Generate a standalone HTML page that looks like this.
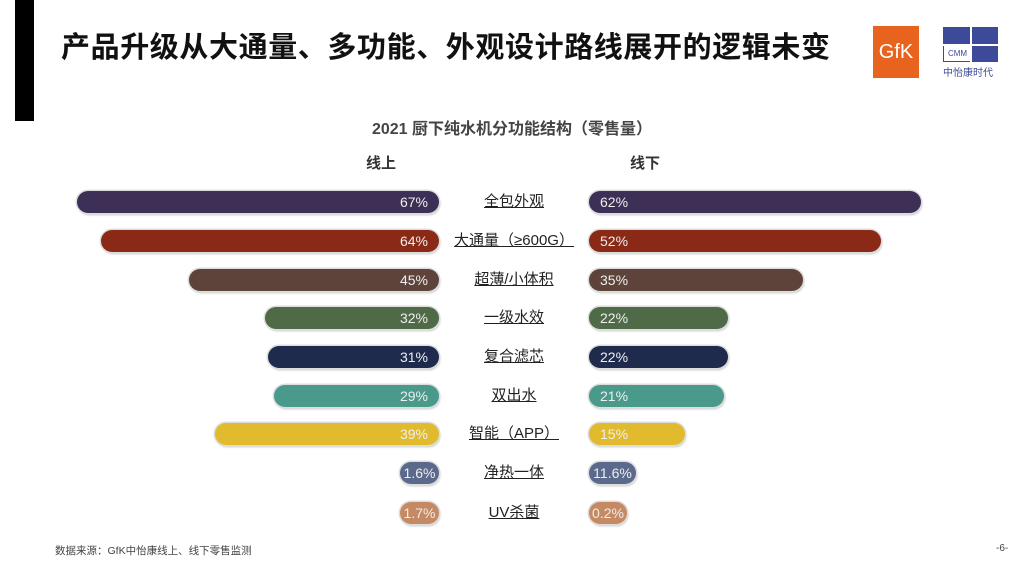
<!DOCTYPE html>
<html><head><meta charset="utf-8"><style>
body{margin:0;width:1024px;height:576px;background:#fff;position:relative;overflow:hidden;font-family:"Liberation Sans","Noto Sans CJK SC",sans-serif;}
.a{position:absolute}
.bar{position:absolute;height:22px;border-radius:11px;color:#eee;font-size:14px;line-height:22px;box-shadow:0 0 0 1.5px #ddd,1px 2px 2px rgba(0,0,0,.25);box-sizing:border-box}
.l{text-align:right;padding-right:11px}
.r{text-align:left;padding-left:11px}
.s{text-align:center;padding:0}
.lab{position:absolute;left:440px;width:148px;text-align:center;font-size:15px;color:#222;text-decoration:underline;line-height:22px}
</style></head><body>
<div class="a" style="left:15px;top:0;width:19px;height:121px;background:#000"></div>
<div class="a" style="left:61px;top:24px;font-size:29px;font-weight:bold;color:#111;letter-spacing:0.6px">产品升级从大通量、多功能、外观设计路线展开的逻辑未变</div>
<div class="a" style="left:873px;top:26px;width:46px;height:52px;background:#e8641e;color:#fff;font-size:20px;line-height:52px;text-align:center">GfK</div>
<div class="a" style="left:943px;top:27px;width:55px;height:35px;background:#3d4a9a"></div>
<div class="a" style="left:944px;top:46px;width:27px;height:15px;background:#fff;color:#3d4a9a;font-size:8px;line-height:15px;text-align:center">CMM</div>
<div class="a" style="left:970px;top:27px;width:2px;height:35px;background:#fff"></div>
<div class="a" style="left:943px;top:44px;width:55px;height:2px;background:#fff"></div>
<div class="a" style="left:943px;top:64px;font-size:10px;color:#3d4a9a">中怡康时代</div>
<div class="a" style="left:0;width:1024px;top:115px;text-align:center;font-size:16px;font-weight:bold;color:#444">2021 厨下纯水机分功能结构（零售量）</div>
<div class="a" style="left:366px;top:152px;font-size:15px;font-weight:bold;color:#333">线上</div>
<div class="a" style="left:630px;top:152px;font-size:15px;font-weight:bold;color:#333">线下</div>

<div class="bar l" style="top:191px;left:77px;width:362px;background:#3d2f55">67%</div>
<div class="lab" style="top:191px">全包外观</div>
<div class="bar r" style="top:191px;left:589px;width:332px;background:#3d2f55">62%</div>

<div class="bar l" style="top:230px;left:101px;width:338px;background:#8a2a16">64%</div>
<div class="lab" style="top:230px">大通量（≥600G）</div>
<div class="bar r" style="top:230px;left:589px;width:292px;background:#8a2a16">52%</div>

<div class="bar l" style="top:269px;left:189px;width:250px;background:#5e433a">45%</div>
<div class="lab" style="top:269px">超薄/小体积</div>
<div class="bar r" style="top:269px;left:589px;width:214px;background:#5e433a">35%</div>

<div class="bar l" style="top:307px;left:265px;width:174px;background:#4e6a46">32%</div>
<div class="lab" style="top:307px">一级水效</div>
<div class="bar r" style="top:307px;left:589px;width:139px;background:#4e6a46">22%</div>

<div class="bar l" style="top:346px;left:268px;width:171px;background:#1f2b4c">31%</div>
<div class="lab" style="top:346px">复合滤芯</div>
<div class="bar r" style="top:346px;left:589px;width:139px;background:#1f2b4c">22%</div>

<div class="bar l" style="top:385px;left:274px;width:165px;background:#4a9a8c">29%</div>
<div class="lab" style="top:385px">双出水</div>
<div class="bar r" style="top:385px;left:589px;width:135px;background:#4a9a8c">21%</div>

<div class="bar l" style="top:423px;left:215px;width:224px;background:#e1bb2d">39%</div>
<div class="lab" style="top:423px">智能（APP）</div>
<div class="bar r" style="top:423px;left:589px;width:96px;background:#e1bb2d">15%</div>

<div class="bar s" style="top:462px;left:400px;width:39px;background:#5b6a8c">1.6%</div>
<div class="lab" style="top:462px">净热一体</div>
<div class="bar s" style="top:462px;left:589px;width:47px;background:#5b6a8c">11.6%</div>

<div class="bar s" style="top:502px;left:400px;width:39px;background:#c58a64">1.7%</div>
<div class="lab" style="top:502px">UV杀菌</div>
<div class="bar s" style="top:502px;left:589px;width:38px;background:#c58a64">0.2%</div>

<div class="a" style="left:55px;top:543px;font-size:10.5px;color:#444">数据来源：GfK中怡康线上、线下零售监测</div>
<div class="a" style="left:996px;top:543px;font-size:10px;color:#444">-6-</div>
</body></html>
